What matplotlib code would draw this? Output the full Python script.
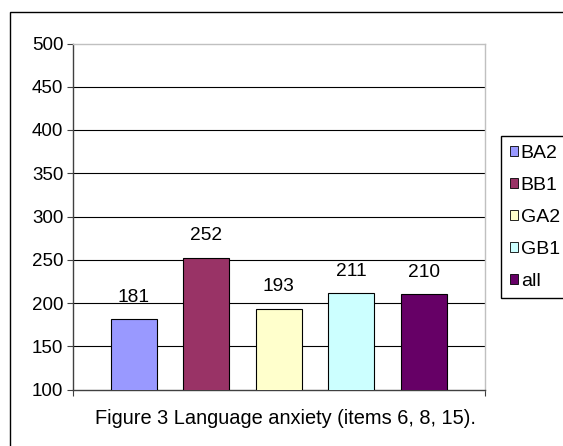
import numpy as np
import matplotlib.pyplot as plt
from matplotlib.patches import Patch, Rectangle

plt.rcParams['font.family'] = ['Liberation Sans', 'DejaVu Sans']

groups = ['BA2', 'BB1', 'GA2', 'GB1', 'all']
values = [181, 252, 193, 211, 210]
colors = ['#9999FF', '#993366', '#FFFFCC', '#CCFFFF', '#660066']
yticks = [100, 150, 200, 250, 300, 350, 400, 450, 500]
caption = 'Figure 3 Language anxiety (items 6, 8, 15).'

W, H = 563, 446
fig = plt.figure(figsize=(W / 100, H / 100), dpi=100)

# outer frame (cut off at right and bottom like the original)
fig.patches.append(Rectangle((10 / W, -0.5), 2, 1 - 12 / H + 0.5,
                             transform=fig.transFigure, fill=False,
                             edgecolor='black', linewidth=1.0))

ax = fig.add_axes([73 / W, 1 - 389.5 / H, 412 / W, 346 / H])
x = np.arange(len(values))
ax.bar(x, values, width=0.634, color=colors, edgecolor='black',
       linewidth=0.8, zorder=3, bottom=0)
for xi, v in zip(x, values):
    ax.annotate(str(v), (xi, v), xytext=(0, 16), textcoords='offset points',
                ha='center', va='center', fontsize=13.8)

ax.set_ylim(100, 500)
ax.set_xlim(-0.835, 4.84)
ax.set_yticks(yticks)
ax.tick_params(axis='y', labelsize=13.5, length=4, width=0.8, color='#404040', pad=3)
ax.set_xticks([-0.835, 4.84])
ax.set_xticklabels([])
ax.tick_params(axis='x', length=4, width=0.8, color='#404040')
for y in yticks[1:-1]:
    ax.axhline(y, color='black', linewidth=0.8, zorder=1)
ax.spines['left'].set_color('#404040')
ax.spines['bottom'].set_color('#404040')
ax.spines['top'].set_color('#c0c0c0')
ax.spines['right'].set_color('#c0c0c0')
for s in ax.spines.values():
    s.set_linewidth(1.0)

handles = [Patch(facecolor=c, edgecolor='black', linewidth=0.6) for c in colors]
fig.legend(handles, groups, loc='upper left', bbox_to_anchor=(501 / W, 1 - 136 / H),
           borderaxespad=0, fontsize=14, frameon=True, fancybox=False,
           edgecolor='black', framealpha=1, handlelength=0.41, handleheight=0.41,
           handletextpad=0.15, labelspacing=0.77, borderpad=0.45)

fig.text(285.5 / W, 1 - 418 / H, caption, ha='center', va='center', fontsize=14.4)

fig.savefig('out.png', dpi=100)
